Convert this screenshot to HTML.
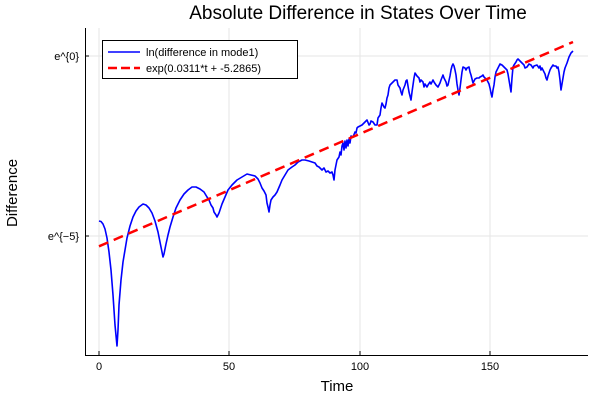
<!DOCTYPE html>
<html><head><style>body{margin:0;background:#fff}svg{display:block;font-family:"Liberation Sans",sans-serif}</style></head><body>
<svg width="600" height="400" viewBox="0 0 600 400">
<rect width="600" height="400" fill="#fff"/>
<g stroke="#e6e6e6" stroke-width="1">
<line x1="99" y1="28" x2="99" y2="355"/><line x1="229" y1="28" x2="229" y2="355"/><line x1="360" y1="28" x2="360" y2="355"/><line x1="490" y1="28" x2="490" y2="355"/>
<line x1="85" y1="56" x2="588" y2="56"/><line x1="85" y1="236" x2="588" y2="236"/>
</g>
<g stroke="#000" stroke-width="1">
<line x1="85.5" y1="28" x2="85.5" y2="355"/><line x1="85" y1="355.5" x2="588" y2="355.5"/>
<line x1="99" y1="355" x2="99" y2="351"/><line x1="229" y1="355" x2="229" y2="351"/><line x1="360" y1="355" x2="360" y2="351"/><line x1="490" y1="355" x2="490" y2="351"/>
<line x1="85" y1="56" x2="89" y2="56"/><line x1="85" y1="236" x2="89" y2="236"/>
</g>
<g font-size="11" fill="#000" text-anchor="middle">
<text x="99" y="370">0</text><text x="229" y="370">50</text><text x="360" y="370">100</text><text x="490" y="370">150</text>
</g>
<g font-size="11" fill="#000" text-anchor="end">
<text x="79" y="60">e^{0}</text><text x="79" y="240">e^{−5}</text>
</g>
<text x="337" y="391" font-size="15" text-anchor="middle">Time</text>
<text transform="translate(17,193) rotate(-90)" font-size="15" text-anchor="middle">Difference</text>
<text x="358" y="19" font-size="19" text-anchor="middle">Absolute Difference in States Over Time</text>
<polyline fill="none" stroke="#0000ff" stroke-width="1.6" stroke-linejoin="round" points="99,221 101,221.5 103,224 105,229 107,238 109,252 111,270 113,295 115,325 117,346 118,330 119,305 121,280 123,262 125,250 127,238 130,226 133,217 136,211 139,207 143,204 146,205 149,208 152,213 155,221 158,232 160,242 162,252 163,257 164,254 166,244 168,235 170,227 173,217 176,208 180,200 184,194 188,190 192,187 196,187 200,189 204,192 207,197 209,200 211,205 213,208 214,212 216,215 217,217 219,213 222,204 225,197 228,190 232,185 237,180 242,177 247,174 251,175 255,176 258,179 260,183 262,188 264,191 266,195 267,203 268,207 269,212 270,205 271,200 273,197 275,195 277,192 280,185 282,180 285,175 288,170 292,167 295,165 298,162 302,160 305,160 309,161 312,162 315,163 317,166 319,167 321,169 322,170 324,168 326,172 328,171 330,173 332,172 333,175 334,180 335,170 337,160 339,157 340,152 341,155 342,146 343,143 344,150 345,141 346,148 347,140 348,146 349,139 350,143 351,136 353,137 355,132 356,133 357,128 358,127 360,126 362,125 364,123 367,120 369,125 370,124 371,121 373,122 375,125 377,125 378,118 380,115 381,108 382,103 384,107 385,108 386,104 387,98 388,95 389,88 390,85 392,83 393,82 395,80 397,80 398,85 400,88 401,92 402,95 403,90 405,85 406,81 407,80 408,86 409,92 410,96 411,100 412,92 413,85 414,78 415,73 417,76 419,78 420,82 421,80 423,82 424,87 425,84 427,87 428,85 430,82 431,84 433,80 434,82 436,85 437,86 438,87 440,83 441,80 443,75 444,78 446,82 447,86 448,85 450,76 451,70 452,66 453,64 454,66 455,70 456,75 457,84 458,90 459,95 460,88 461,80 462,72 463,67 465,68 466,70 467,68 469,67 470,72 471,75 472,79 473,83 474,81 475,79 477,78 479,78 480,77 482,76 483,75 484,77 485,78 486,79 487,80 489,84 490,88 491,93 492,97 493,90 494,85 495,77 496,72 498,68 499,66 500,64 502,65 504,67 505,68 507,70 508,74 509,80 510,86 511,92 512,78 513,67 514,65 516,62 517,60 518,59 520,61 522,63 524,65 525,68 527,67 529,64 531,65 533,68 534,66 537,65 539,68 540,66 541,70 542,68 544,72 545,74 546,78 547,80 548,76 550,70 551,68 553,65 554,66 556,66 557,68 558,67 559,72 560,80 561,90 562,84 563,78 564,72 565,68 567,63 568,60 569,57 570,55 571,53 573,51"/>
<line x1="99" y1="246.3" x2="573" y2="42" stroke="#ff0000" stroke-width="2.5" stroke-dasharray="10,6"/>
<rect x="102.5" y="40.5" width="195" height="38" fill="#fff" stroke="#000" stroke-width="1"/>
<line x1="108" y1="52" x2="140" y2="52" stroke="#0000ff" stroke-width="1.6"/>
<line x1="108" y1="68" x2="140" y2="68" stroke="#ff0000" stroke-width="2.5" stroke-dasharray="9,4"/>
<text x="146" y="56" font-size="11">ln(difference in mode1)</text>
<text x="146" y="72" font-size="11">exp(0.0311*t + -5.2865)</text>
</svg>
</body></html>
